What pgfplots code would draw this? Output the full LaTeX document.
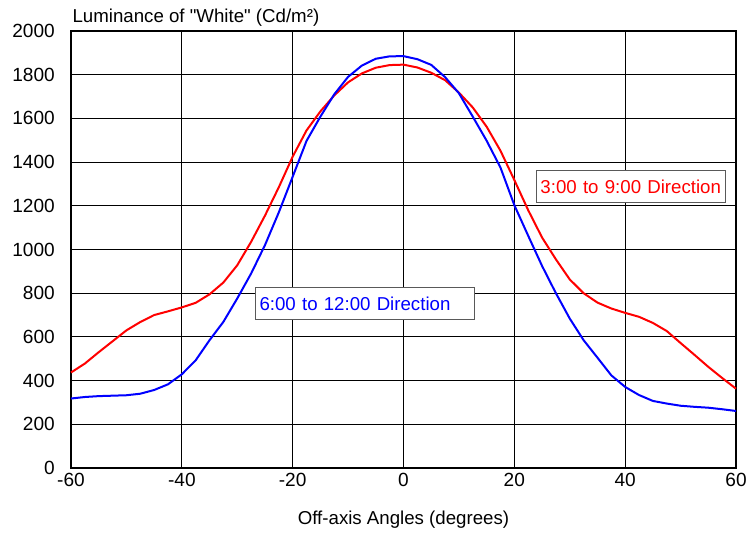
\documentclass[border=0pt]{standalone}
\usepackage{fontspec}
\setmainfont{Liberation Sans}[Ligatures=TeXOff]
\usepackage{pgfplots}
\pgfplotsset{compat=1.18}
\begin{document}
\begin{tikzpicture}
\begin{axis}[
  scale only axis,
  width=498.75pt, height=327.75pt,
  xmin=-60, xmax=60, ymin=0, ymax=2000,
  xtick={-60,-40,...,60},
  ytick={0,200,...,2000},
  major tick length=0pt,
  grid=major,
  major grid style={black, line width=0.7pt},
  axis line style={black, line width=1pt},
  /pgf/number format/assume math mode=true,
  /pgf/number format/1000 sep={},
  tick label style={font=\fontsize{14.3}{16}\selectfont},
  yticklabel style={inner sep=0pt, xshift=-12pt},
  xticklabel style={inner sep=0pt, yshift=-4pt},
  xlabel={Off-axis Angles (degrees)},
  xlabel style={font=\fontsize{14}{16}\selectfont, at={(axis description cs:0.5,0)}, anchor=center, yshift=-39pt},
  clip=false,
]
\addplot[red, line width=1.5pt, no marks] coordinates {
(-60,437) (-57.5,478) (-55,530) (-52.5,580) (-50,630) (-47.5,668) (-45,700)
(-42.5,717) (-40,735) (-37.5,756) (-35,795) (-32.5,849) (-30,928) (-27.5,1035)
(-25,1155) (-22.5,1285) (-20,1425) (-17.5,1545) (-15,1632) (-12.5,1705)
(-10,1765) (-7.5,1806) (-5,1832) (-2.5,1844) (0,1846) (2.5,1833) (5,1809)
(7.5,1775) (10,1718) (12.5,1650) (15,1562) (17.5,1452) (20,1318) (22.5,1180)
(25,1055) (27.5,955) (30,863) (32.5,800) (35,757) (37.5,730) (40,710)
(42.5,692) (45,664) (47.5,627) (50,572) (52.5,518) (55,463) (57.5,412) (60,363)
};
\addplot[blue, line width=1.5pt, no marks] coordinates {
(-60,318) (-57.5,325) (-55,329) (-52.5,331) (-50,333) (-47.5,340) (-45,357)
(-42.5,383) (-40,429) (-37.5,493) (-35,585) (-32.5,669) (-30,776) (-27.5,890)
(-25,1020) (-22.5,1170) (-20,1333) (-17.5,1497) (-15,1608) (-12.5,1710)
(-10,1790) (-7.5,1842) (-5,1873) (-2.5,1884) (0,1885) (2.5,1871) (5,1845)
(7.5,1789) (10,1715) (12.5,1608) (15,1498) (17.5,1375) (20,1203) (22.5,1063)
(25,925) (27.5,800) (30,684) (32.5,585) (35,505) (37.5,424) (40,371)
(42.5,334) (45,307) (47.5,295) (50,285) (52.5,280) (55,276) (57.5,269) (60,261)
};
\node[anchor=base west, inner sep=0pt, xshift=1pt, yshift=6.75pt,
  font=\fontsize{14}{16}\selectfont] at (rel axis cs:0,1)
  {Luminance of "White" (Cd/m²)};
\node[draw=black!65, line width=0.8pt, fill=white, anchor=north west,
  text=blue, font=\fontsize{14}{16}\selectfont, inner xsep=3pt,
  text width=158pt, align=left, minimum height=24pt]
  at (axis cs:-26.8,827) {6:00 to 12:00 Direction};
\node[draw=black!65, line width=0.8pt, fill=white, anchor=north west,
  text=red, font=\fontsize{14}{16}\selectfont, inner xsep=3pt,
  text width=136pt, align=left, minimum height=24pt]
  at (axis cs:23.9,1362) {3:00 to 9:00 Direction};
\end{axis}
\pgfresetboundingbox
\useasboundingbox ([xshift=-53.25pt, yshift=-48.75pt]current axis.south west)
  rectangle ([xshift=8.25pt, yshift=23.25pt]current axis.north east);
\end{tikzpicture}
\end{document}
